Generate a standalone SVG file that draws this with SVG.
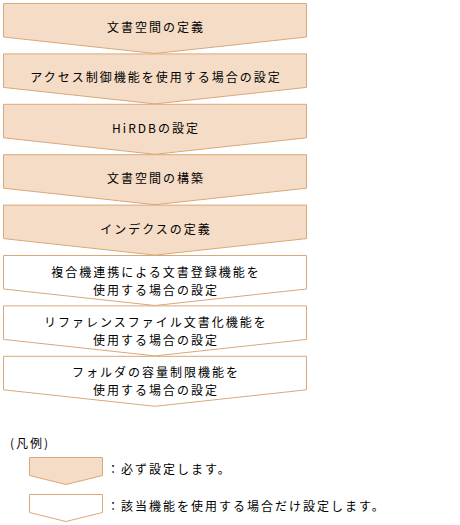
<svg xmlns="http://www.w3.org/2000/svg" xmlns:xlink="http://www.w3.org/1999/xlink" width="460" height="525" viewBox="0 0 460 525">
<style>
.req{fill:#F5DCC6;stroke:#D9A87A;stroke-width:1}
.opt{fill:#FFFFFF;stroke:#D9A87A;stroke-width:1}
text{font-family:"Noto Sans CJK JP","Noto Sans",sans-serif;font-size:12px;fill:#000;letter-spacing:2px}
.c{text-anchor:middle}
</style>
<defs>
<path id="step" d="M0,0 H303 V33.5 L151.5,50 L0,33.5 Z"/>
<path id="leg" d="M0,0 H73 V18 L36.5,27 L0,18 Z"/>
</defs>
<g id="connectors"></g>
<g id="n1"><use xlink:href="#step" class="req" x="3.5" y="3.5"/><text class="c" x="156" y="32">文書空間の定義</text></g>
<g id="n2"><use xlink:href="#step" class="req" x="3.5" y="53.9"/><text class="c" x="156" y="82.4">アクセス制御機能を使用する場合の設定</text></g>
<g id="n3"><use xlink:href="#step" class="req" x="3.5" y="104.3"/><text class="c" x="156" y="132.8">HiRDBの設定</text></g>
<g id="n4"><use xlink:href="#step" class="req" x="3.5" y="154.7"/><text class="c" x="156" y="183.2">文書空間の構築</text></g>
<g id="n5"><use xlink:href="#step" class="req" x="3.5" y="205.1"/><text class="c" x="156" y="233.6">インデクスの定義</text></g>
<g id="n6"><use xlink:href="#step" class="opt" x="3.5" y="255.5"/><text class="c" x="156" y="276.5">複合機連携による文書登録機能を</text><text class="c" x="156" y="294.5">使用する場合の設定</text></g>
<g id="n7"><use xlink:href="#step" class="opt" x="3.5" y="305.9"/><text class="c" x="156" y="326.9">リファレンスファイル文書化機能を</text><text class="c" x="156" y="344.9">使用する場合の設定</text></g>
<g id="n8"><use xlink:href="#step" class="opt" x="3.5" y="356.3"/><text class="c" x="156" y="377.3">フォルダの容量制限機能を</text><text class="c" x="156" y="395.3">使用する場合の設定</text></g>
<g id="legend">
<text x="10" y="448">(凡例)</text>
<use xlink:href="#leg" class="req" x="29.5" y="457.5"/>
<text x="107" y="474">：必ず設定します。</text>
<use xlink:href="#leg" class="opt" x="29.5" y="494.5"/>
<text x="107" y="511">：該当機能を使用する場合だけ設定します。</text>
</g>
</svg>
